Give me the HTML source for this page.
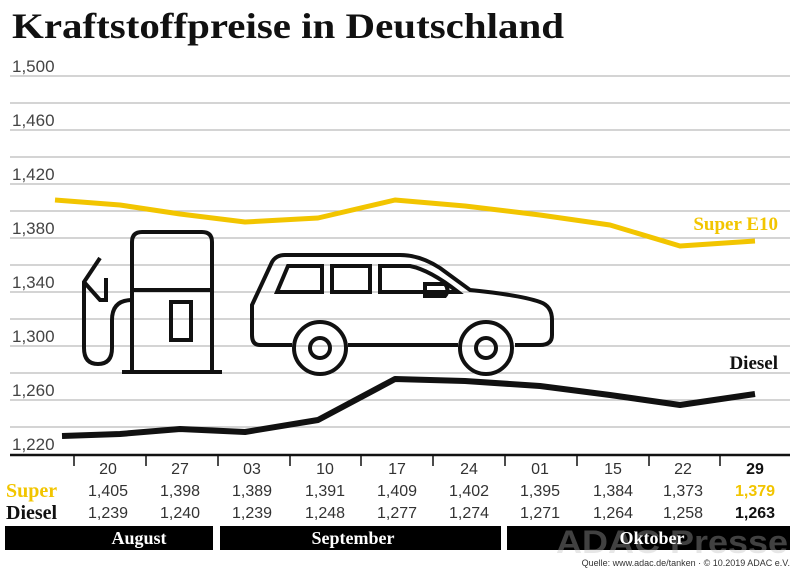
<!DOCTYPE html>
<html><head><meta charset="utf-8"><style>
html,body{margin:0;padding:0;background:#fff;}
body{width:800px;height:578px;overflow:hidden;position:relative;font-family:"Liberation Sans",sans-serif;}
</style></head><body>
<svg width="800" height="578" viewBox="0 0 800 578" xmlns="http://www.w3.org/2000/svg" style="position:absolute;left:0;top:0">
<text x="12" y="38" font-family="Liberation Serif" font-weight="bold" font-size="36" fill="#111" textLength="552" lengthAdjust="spacingAndGlyphs">Kraftstoffpreise in Deutschland</text>
<g stroke="#bbb" stroke-width="1.3">
<line x1="10" y1="76" x2="790" y2="76"/><line x1="10" y1="103" x2="790" y2="103"/>
<line x1="10" y1="130" x2="790" y2="130"/><line x1="10" y1="157" x2="790" y2="157"/>
<line x1="10" y1="184" x2="790" y2="184"/><line x1="10" y1="211" x2="790" y2="211"/>
<line x1="10" y1="238" x2="790" y2="238"/><line x1="10" y1="265" x2="790" y2="265"/>
<line x1="10" y1="292" x2="790" y2="292"/><line x1="10" y1="319" x2="790" y2="319"/>
<line x1="10" y1="346" x2="790" y2="346"/><line x1="10" y1="373" x2="790" y2="373"/>
<line x1="10" y1="400" x2="790" y2="400"/><line x1="10" y1="427" x2="790" y2="427"/>
</g>
<g font-size="17" fill="#444" font-family="Liberation Sans">
<text x="12" y="72">1,500</text><text x="12" y="126">1,460</text><text x="12" y="180">1,420</text>
<text x="12" y="234">1,380</text><text x="12" y="288">1,340</text><text x="12" y="342">1,300</text>
<text x="12" y="396">1,260</text><text x="12" y="450">1,220</text>
</g>
<line x1="10" y1="455" x2="790" y2="455" stroke="#111" stroke-width="2.5"/>
<g stroke="#111" stroke-width="1.5">
<line x1="74" y1="455" x2="74" y2="466"/><line x1="146" y1="455" x2="146" y2="466"/><line x1="218" y1="455" x2="218" y2="466"/>
<line x1="290" y1="455" x2="290" y2="466"/><line x1="361" y1="455" x2="361" y2="466"/><line x1="433" y1="455" x2="433" y2="466"/>
<line x1="505" y1="455" x2="505" y2="466"/><line x1="577" y1="455" x2="577" y2="466"/><line x1="649" y1="455" x2="649" y2="466"/>
<line x1="720" y1="455" x2="720" y2="466"/>
</g>
<!-- pump -->
<g fill="none" stroke="#111" stroke-width="4">
<path d="M132 372 V242 Q132 232 142 232 H202 Q212 232 212 242 V372"/>
<line x1="132" y1="290" x2="212" y2="290"/>
<rect x="171" y="302" width="20" height="38"/>
<line x1="122" y1="372" x2="222" y2="372"/>
<path d="M132 300 Q112 300 112 320 V348 Q112 364 98 364 Q84 364 84 348 V282 L100 258"/>
<path d="M84 282 L100 300 H106 V278"/>
</g>
<!-- car -->
<g fill="none" stroke="#111" stroke-width="4">
<path d="M292 345 H260 Q252 345 252 335 V305 L272 262 Q276 255 285 255 H400 Q420 255 440 268 L470 290 Q520 295 540 302 Q552 306 552 320 V335 Q552 345 540 345 H515"/>
<path d="M348 345 H458"/>
<circle cx="320" cy="348" r="26"/><circle cx="320" cy="348" r="10"/>
<circle cx="486" cy="348" r="26"/><circle cx="486" cy="348" r="10"/>
<path d="M277 292 L288 266 H322 V292 Z"/>
<path d="M332 266 H370 V292 H332 Z"/>
<path d="M380 266 H410 Q430 270 458 292 H380 Z"/>
<path d="M425 284 H445 Q450 290 445 296 H425 Z"/>
</g>
<polyline fill="none" stroke="#f2c500" stroke-width="5" stroke-linejoin="round" points="55,200 120,205 180,214 245,222 318,218 395,200 465,206 540,215 610,225 680,246 755,241"/>
<polyline fill="none" stroke="#111" stroke-width="6" stroke-linejoin="round" points="62,436 120,434 180,429 245,432 318,420 395,379 465,381 540,386 610,395 680,405 755,394"/>
<text x="778" y="230" text-anchor="end" font-family="Liberation Serif" font-weight="bold" font-size="19" fill="#f2c500">Super E10</text>
<text x="778" y="369" text-anchor="end" font-family="Liberation Serif" font-weight="bold" font-size="19" fill="#111">Diesel</text>
<g font-size="16" fill="#333" text-anchor="middle">
<text x="108" y="474">20</text><text x="180" y="474">27</text><text x="252" y="474">03</text><text x="325" y="474">10</text>
<text x="397" y="474">17</text><text x="469" y="474">24</text><text x="540" y="474">01</text><text x="613" y="474">15</text>
<text x="683" y="474">22</text><text x="755" y="474" font-weight="bold" fill="#111">29</text>
<text x="108" y="496">1,405</text><text x="180" y="496">1,398</text><text x="252" y="496">1,389</text><text x="325" y="496">1,391</text>
<text x="397" y="496">1,409</text><text x="469" y="496">1,402</text><text x="540" y="496">1,395</text><text x="613" y="496">1,384</text>
<text x="683" y="496">1,373</text><text x="755" y="496" font-weight="bold" fill="#f2c500">1,379</text>
<text x="108" y="518">1,239</text><text x="180" y="518">1,240</text><text x="252" y="518">1,239</text><text x="325" y="518">1,248</text>
<text x="397" y="518">1,277</text><text x="469" y="518">1,274</text><text x="540" y="518">1,271</text><text x="613" y="518">1,264</text>
<text x="683" y="518">1,258</text><text x="755" y="518" font-weight="bold" fill="#111">1,263</text>
</g>
<text x="6" y="497" font-family="Liberation Serif" font-weight="bold" font-size="20" fill="#f2c500">Super</text>
<text x="6" y="519" font-family="Liberation Serif" font-weight="bold" font-size="20" fill="#111">Diesel</text>
<rect x="5" y="526" width="208" height="24" fill="#000"/>
<rect x="220" y="526" width="281" height="24" fill="#000"/>
<rect x="507" y="526" width="283" height="24" fill="#000"/>
<text x="556" y="553" font-size="32" font-weight="bold" fill="#bbb" opacity="0.35" textLength="232" lengthAdjust="spacingAndGlyphs">ADAC Presse</text>
<g font-family="Liberation Serif" font-weight="bold" font-size="18" fill="#fff" text-anchor="middle">
<text x="139" y="544">August</text><text x="353" y="544">September</text><text x="652" y="544">Oktober</text>
</g>
<text x="790" y="566" text-anchor="end" font-size="9" fill="#333">Quelle: www.adac.de/tanken · © 10.2019  ADAC e.V.</text>
</svg>
</body></html>
